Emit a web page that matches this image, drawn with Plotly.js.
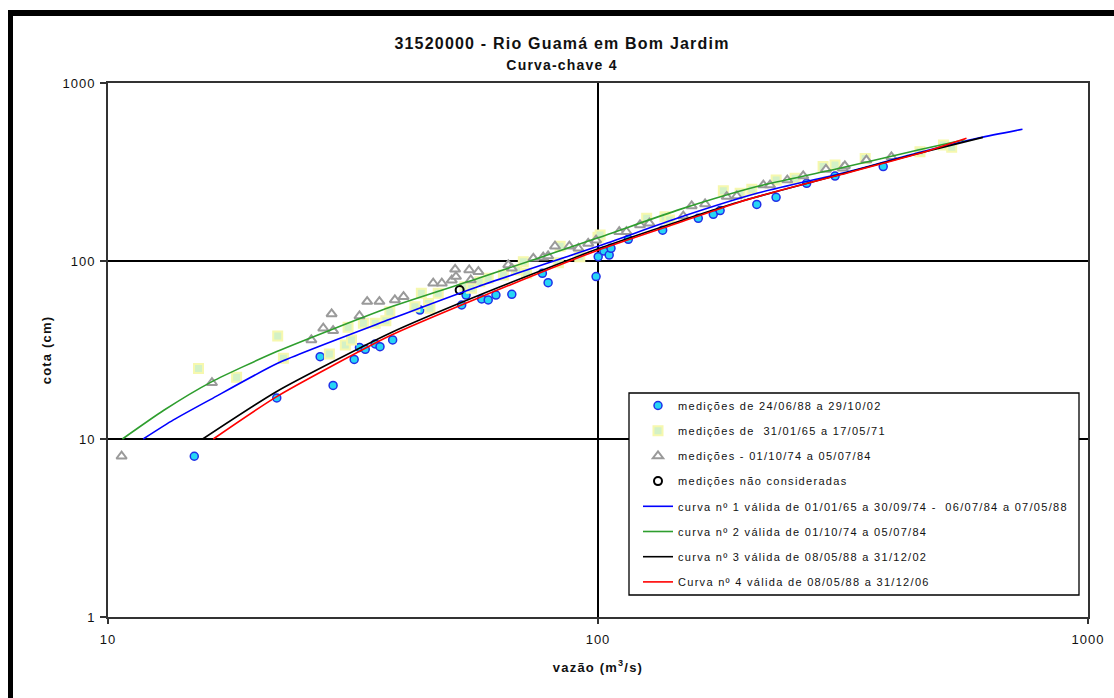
<!DOCTYPE html>
<html><head><meta charset="utf-8">
<script src="https://cdn.plot.ly/plotly-3.0.1.min.js"></script>
<style>
html,body{margin:0;padding:0;background:#fff;}
#chart{width:1114px;height:698px;}
.legendtext{letter-spacing:1.3px;}
.gtitle{letter-spacing:1.2px;}
.xtitle,.ytitle{letter-spacing:1.2px;}
.xtick text,.ytick text{letter-spacing:1px;}
</style></head><body><div id="chart"></div>
<script>
// ---- data ----
const xTickVals = [10, 100, 1000];
const xTickText = ['10', '100', '1000'];
const yTickVals = [1, 10, 100, 1000];
const yTickText = ['1', '10', '100', '1000'];

// medições de 24/06/88 a 29/10/02 (vazão, cota)
const qMed1 = [15, 22.1, 27.1, 28.8, 31.8, 32.6, 33.5, 35.1, 35.9, 38.1, 43.3, 52.7, 53.8, 57.9, 59.7, 61.9, 66.7, 77, 79.1, 99.1, 100.1, 102.8, 105.4, 106.3, 115.3, 135.5, 160.2, 171.9, 177.5, 210.9, 230.9, 266.6, 304.6, 382];
const hMed1 = [8, 17, 29, 20, 28, 32.7, 31.9, 34.2, 33, 36, 53, 56.6, 64.4, 61.2, 60.4, 64.4, 65, 85.3, 75.5, 81.7, 105.8, 113.8, 108, 117.8, 132.4, 149, 173.7, 183, 192, 208, 228, 273, 300, 339];

// medições de 31/01/65 a 17/05/71
const qMed2 = [15.3, 18.3, 22.2, 22.8, 28.3, 30.5, 31.4, 30.9, 33.2, 35.1, 36.9, 37.6, 42.3, 45.1, 45.4, 43.6, 47.2, 53.5, 55.2, 57.4, 59.7, 64.1, 68.2, 70.4, 71.5, 83, 83.7, 91.8, 100, 101, 125.7, 137, 140, 180.2, 195, 206, 231, 252.5, 288, 304.6, 351, 454, 507, 527];
const hMed2 = [24.9, 22.2, 37.9, 28.4, 30, 33.7, 36, 42.5, 44.7, 44.7, 46.2, 51.9, 55.4, 57.8, 54.2, 65.8, 65.8, 71.7, 70.3, 76.5, 80, 83.4, 89, 99, 85.3, 97.8, 121, 105.8, 136, 140, 173.7, 177, 170, 248, 240, 253, 285, 291.5, 339, 346, 377, 411, 449, 436];

// medições - 01/10/74 a 05/07/84
const qMed3 = [10.66, 16.3, 26, 27.5, 28.6, 28.8, 32.6, 33.8, 35.8, 38.5, 40.1, 46.1, 48, 50.3, 51.1, 51.3, 54.6, 55, 57, 65.6, 66.7, 73.8, 77.3, 79.1, 81.7, 87.4, 91.2, 95.5, 99.1, 110.5, 114.3, 121.8, 127.3, 149.3, 155.3, 165.4, 183.1, 192, 217.5, 224.4, 243.4, 262.3, 291.9, 316, 319, 353, 397];
const hMed3 = [8, 20.7, 36, 41.9, 50.4, 40.6, 49.1, 59.2, 59.2, 60.4, 63, 75, 75, 78, 89.8, 81.7, 89, 78.2, 87.1, 95, 91, 103.5, 105, 106.7, 121, 121, 117.8, 125.6, 131, 146, 146, 159.3, 163, 178.9, 203.8, 209, 230, 231.8, 267, 267, 285, 300.5, 327, 332, 342, 369, 385];

// medições não consideradas
const qNC = [52.2];
const hNC = [68.7];

// curva nº 1
const qC1 = [11.8, 13.6, 16.2, 22.3, 37.6, 57, 100, 147, 211, 316, 450, 600, 735];
const hC1 = [10, 12.8, 16.7, 26.8, 47, 72, 121, 176, 240, 312, 405, 492, 550];
// curva nº 2
const qC2 = [10.7, 13, 16.3, 22.1, 37.6, 57, 100, 147, 211, 316, 450, 560];
const hC2 = [10, 14.5, 21, 31, 55, 80, 135, 195, 262, 335, 420, 480];
// curva nº 3
const qC3 = [15.6, 22.1, 37.6, 57, 100, 147, 200, 312, 450, 610];
const hC3 = [10, 18.5, 39.3, 64, 117, 168, 220, 306, 402, 495];
// curva nº 4
const qC4 = [16.4, 22.1, 37.6, 57, 100, 147, 192, 239, 312, 450, 565];
const hC4 = [10, 17.3, 38, 62, 115, 165, 212, 252, 305, 400, 490];

const names = [
  'medições de 24/06/88 a 29/10/02',
  'medições de  31/01/65 a 17/05/71',
  'medições - 01/10/74 a 05/07/84',
  'medições não consideradas',
  'curva nº 1 válida de 01/01/65 a 30/09/74 -  06/07/84 a 07/05/88',
  'curva nº 2 válida de 01/10/74 a 05/07/84',
  'curva nº 3 válida de 08/05/88 a 31/12/02',
  'Curva nº 4 válida de 08/05/88 a 31/12/06'
];

// ---- figure ----
const FONT = 'Liberation Sans, Arial, Helvetica, sans-serif';
function grp(i){ return 'g' + i; }

const traces = [
  {x: qMed1, y: hMed1, name: names[0], mode: 'markers', legendgroup: grp(0),
   marker: {symbol: 'circle', size: 8, color: '#27D6F4', line: {color: '#2030E8', width: 1.5}}},
  {x: qMed2, y: hMed2, name: names[1], mode: 'markers', legendgroup: grp(1),
   marker: {symbol: 'square', size: 9, color: '#D3F1C6', line: {color: '#F6F8AE', width: 2}}},
  {x: qMed3, y: hMed3, name: names[2], mode: 'markers', legendgroup: grp(2),
   marker: {symbol: 'triangle-up', size: 9, color: '#FFFFFF', line: {color: '#9A9A9A', width: 2}}},
  {x: qNC, y: hNC, name: names[3], mode: 'markers', legendgroup: grp(3),
   marker: {symbol: 'circle-open', size: 8, color: '#000000', line: {color: '#000000', width: 2}}},
  {x: qC1, y: hC1, name: names[4], mode: 'lines', legendgroup: grp(4), line: {color: '#0000FF', width: 1.6, shape: 'spline', smoothing: 0.6}},
  {x: qC2, y: hC2, name: names[5], mode: 'lines', legendgroup: grp(5), line: {color: '#2E9E2E', width: 1.6, shape: 'spline', smoothing: 0.6}},
  {x: qC3, y: hC3, name: names[6], mode: 'lines', legendgroup: grp(6), line: {color: '#000000', width: 1.6, shape: 'spline', smoothing: 0.6}},
  {x: qC4, y: hC4, name: names[7], mode: 'lines', legendgroup: grp(7), line: {color: '#FF0000', width: 1.6, shape: 'spline', smoothing: 0.6}}
];

const L = 108, R = 26, T = 83, B = 81, W = 1114, H = 698;
const PW = W - L - R, PH = H - T - B;
function px2x(px){ return (px - L) / PW; }
function py2y(py){ return (H - B - py) / PH; }

const layout = {
  width: W, height: H,
  margin: {l: L, r: R, t: T, b: B, pad: 0},
  paper_bgcolor: '#ffffff', plot_bgcolor: '#ffffff',
  font: {family: FONT, color: '#111111', size: 13},
  showlegend: true,
  hovermode: false,
  title: {
    text: '<b>31520000 - Rio Guamá em Bom Jardim</b><br><b><span style="font-size:14px">Curva-chave 4</span></b>',
    x: px2x(562), xref: 'paper', xanchor: 'center',
    y: 1 - 49 / H, yref: 'container', yanchor: 'top',
    font: {family: FONT, size: 16, color: '#111111'}
  },
  xaxis: {
    type: 'log', range: [1, 3],
    tickmode: 'array', tickvals: xTickVals, ticktext: xTickText,
    showgrid: true, gridcolor: '#000000', gridwidth: 1.3,
    showline: true, linecolor: '#333333', linewidth: 2, mirror: true,
    ticks: 'outside', ticklen: 5, tickwidth: 1.5, tickcolor: '#333333',
    ticklabelstandoff: 4,
    zeroline: false, automargin: false,
    tickfont: {family: FONT, size: 13, color: '#111111'},
    title: {text: '<b>vazão (m<sup>3</sup>/s)</b>', font: {family: FONT, size: 13, color: '#111111'}, standoff: 17}
  },
  yaxis: {
    type: 'log', range: [0, 3],
    tickmode: 'array', tickvals: yTickVals, ticktext: yTickText,
    showgrid: true, gridcolor: '#000000', gridwidth: 1.3,
    showline: true, linecolor: '#333333', linewidth: 2, mirror: true,
    ticks: 'outside', ticklen: 6, tickwidth: 1.5, tickcolor: '#333333',
    ticklabelstandoff: 2,
    zeroline: false, automargin: false,
    tickfont: {family: FONT, size: 13, color: '#111111'},
    title: {text: '<b>cota (cm)</b>', font: {family: FONT, size: 13, color: '#111111'}, standoff: 8}
  },
  legend: {
    x: px2x(638), xanchor: 'left', xref: 'paper',
    y: py2y(391), yanchor: 'top', yref: 'paper',
    bgcolor: 'rgba(0,0,0,0)', borderwidth: 0,
    font: {family: FONT, size: 11, color: '#111111'},
    traceorder: 'grouped', tracegroupgap: 6.2,
    itemclick: false, itemdoubleclick: false
  },
  shapes: [
    // legend box
    {type: 'rect', xref: 'paper', yref: 'paper', layer: 'above',
     x0: px2x(629), x1: px2x(1079), y0: py2y(595), y1: py2y(393),
     fillcolor: '#ffffff', line: {color: '#000000', width: 1.3}},
    // outer frame (top and left)
    {type: 'line', xref: 'paper', yref: 'paper', layer: 'above',
     x0: px2x(8), x1: px2x(1130), y0: py2y(13), y1: py2y(13),
     line: {color: '#000000', width: 6}},
    {type: 'line', xref: 'paper', yref: 'paper', layer: 'above',
     x0: px2x(10.5), x1: px2x(10.5), y0: py2y(10), y1: py2y(720),
     line: {color: '#000000', width: 5}}
  ]
};

Plotly.newPlot('chart', traces, layout, {displayModeBar: false, staticPlot: true});
</script></body></html>
